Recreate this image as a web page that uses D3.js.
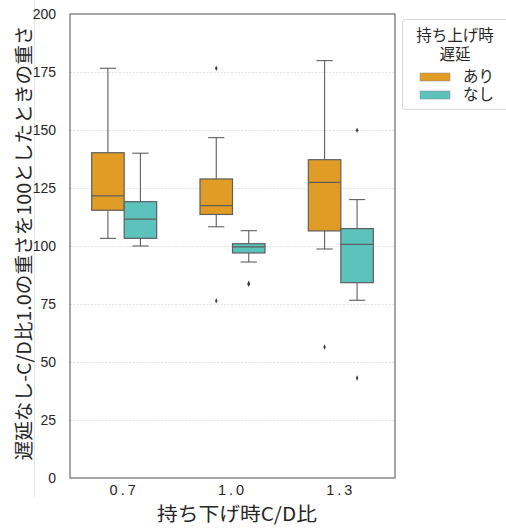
<!DOCTYPE html>
<html>
<head>
<meta charset="utf-8">
<script src="https://cdn.jsdelivr.net/npm/d3@7"></script>
<style>
  body { margin: 0; background: #fff; }
  svg text { font-family: "Noto Sans CJK JP", "Liberation Sans", sans-serif; fill: #262626; }
  .tick text { font-family: "Liberation Sans", sans-serif; }
</style>
</head>
<body>
<div id="chart"></div>
<script>
// categories on the x axis and hue groups
const categories = ['0.7', '1.0', '1.3'];
const hues = ['あり', 'なし'];
const hueColors = ['#e09c24', '#5bc2bc'];
const yTicks = [0, 25, 50, 75, 100, 125, 150, 175, 200];

// box stats per category, [あり, なし]
const whiskerLow  = [[103.3, 100.0], [108.3, 93.1], [98.7, 76.6]];
const q1          = [[115.4, 103.3], [113.6, 97.0], [106.5, 84.2]];
const median      = [[121.6, 111.6], [117.4, 99.6], [127.4, 100.7]];
const q3          = [[140.2, 119.1], [128.9, 101.0], [137.2, 107.5]];
const whiskerHigh = [[176.6, 140.0], [146.7, 106.6], [179.9, 120.0]];
const outliers    = [[[], []], [[176.6, 76.4], [83.5, 83.9]], [[56.5], [149.9, 43.1]]];

const width = 506;
const height = 528;
const margin = { left: 70, right: 111, top: 14, bottom: 50 };

const svg = d3.select('#chart')
              .append('svg')
              .attr('width', width)
              .attr('height', height);

// faint edge line on the left
svg.append('line')
   .attr('x1', 34.5).attr('x2', 34.5)
   .attr('y1', 0).attr('y2', 497)
   .attr('stroke', '#e4e4e4')
   .attr('stroke-width', 1);

const xScale = d3.scaleBand()
                 .domain(categories)
                 .range([margin.left, width - margin.right]);

const yScale = d3.scaleLinear()
                 .domain([0, 200])
                 .range([height - margin.bottom, margin.top]);

const hueScale = d3.scaleBand()
                   .domain(hues)
                   .range([xScale.bandwidth() * 0.2, xScale.bandwidth() * 0.8]);

// grid lines
svg.append('g')
   .attr('transform', 'translate(' + margin.left + ', 0)')
   .call(d3.axisLeft(yScale)
           .tickValues(yTicks.slice(1, -1))
           .tickSize(-(width - margin.right - margin.left))
           .tickFormat(''))
   .call(g => g.select('.domain').remove())
   .call(g => g.selectAll('line')
               .attr('stroke', '#dcdcdc')
               .attr('stroke-dasharray', '2,1.5')
               .attr('stroke-width', 0.8));

// y axis
svg.append('g')
   .attr('transform', 'translate(' + margin.left + ', 0)')
   .call(d3.axisLeft(yScale)
           .tickValues(yTicks)
           .tickSize(0)
           .tickPadding(14))
   .call(g => g.select('.domain').remove())
   .call(g => g.selectAll('text').attr('font-size', 14));

// x axis
svg.append('g')
   .attr('transform', 'translate(0, ' + (height - margin.bottom) + ')')
   .call(d3.axisBottom(xScale).tickSize(0).tickPadding(7))
   .call(g => g.select('.domain').remove())
   .call(g => g.selectAll('text')
               .attr('font-size', 14.5)
               .attr('letter-spacing', 3));

const gray = '#5e5e5e';

categories.forEach((cat, ci) => {
  hues.forEach((hue, hi) => {
    const x0 = xScale(cat) + hueScale(hue);
    const bw = hueScale.bandwidth();
    const cx = x0 + bw / 2;
    const g = svg.append('g');

    // whiskers
    g.append('line')
     .attr('x1', cx).attr('x2', cx)
     .attr('y1', yScale(q3[ci][hi])).attr('y2', yScale(whiskerHigh[ci][hi]))
     .attr('stroke', gray).attr('stroke-width', 1.1);
    g.append('line')
     .attr('x1', cx).attr('x2', cx)
     .attr('y1', yScale(q1[ci][hi])).attr('y2', yScale(whiskerLow[ci][hi]))
     .attr('stroke', gray).attr('stroke-width', 1.1);
    [whiskerHigh[ci][hi], whiskerLow[ci][hi]].forEach(v => {
      g.append('line')
       .attr('x1', cx - bw / 4).attr('x2', cx + bw / 4)
       .attr('y1', yScale(v)).attr('y2', yScale(v))
       .attr('stroke', gray).attr('stroke-width', 1.1);
    });

    // box
    g.append('rect')
     .attr('x', x0)
     .attr('y', yScale(q3[ci][hi]))
     .attr('width', bw)
     .attr('height', yScale(q1[ci][hi]) - yScale(q3[ci][hi]))
     .attr('fill', hueColors[hi])
     .attr('stroke', gray)
     .attr('stroke-width', 1.2);

    g.append('line')
     .attr('x1', x0).attr('x2', x0 + bw)
     .attr('y1', yScale(median[ci][hi])).attr('y2', yScale(median[ci][hi]))
     .attr('stroke', gray).attr('stroke-width', 1.2);

    // outliers
    g.selectAll('path.flier')
     .data(outliers[ci][hi])
     .join('path')
     .attr('class', 'flier')
     .attr('d', d3.symbol(d3.symbolDiamond, 9))
     .attr('transform', d => 'translate(' + cx + ',' + yScale(d) + ') scale(0.75,1)')
     .attr('fill', '#3a3a3a');
  });
});

// frame
svg.append('rect')
   .attr('x', margin.left)
   .attr('y', margin.top)
   .attr('width', width - margin.right - margin.left)
   .attr('height', height - margin.bottom - margin.top)
   .attr('fill', 'none')
   .attr('stroke', '#6a6a6a')
   .attr('stroke-width', 1.2);

// axis titles
svg.append('text')
   .attr('x', 237)
   .attr('y', 521)
   .attr('text-anchor', 'middle')
   .attr('font-size', 19)
   .attr('textLength', 160)
   .attr('lengthAdjust', 'spacingAndGlyphs')
   .text('持ち下げ時C/D比');

svg.append('text')
   .attr('transform', 'translate(31, 243) rotate(-90)')
   .attr('text-anchor', 'middle')
   .attr('font-size', 19)
   .attr('textLength', 435)
   .attr('lengthAdjust', 'spacingAndGlyphs')
   .text('遅延なし-C/D比1.0の重さを100としたときの重さ');

// legend
const legend = svg.append('g');
legend.append('rect')
      .attr('x', 402.5).attr('y', 19.5)
      .attr('width', 120).attr('height', 90)
      .attr('rx', 3)
      .attr('fill', '#fff')
      .attr('stroke', '#d8d8d8');
legend.append('text')
      .attr('x', 455).attr('y', 41)
      .attr('text-anchor', 'middle')
      .attr('font-size', 15.5)
      .text('持ち上げ時');
legend.append('text')
      .attr('x', 455).attr('y', 60)
      .attr('text-anchor', 'middle')
      .attr('font-size', 15.5)
      .text('遅延');
hues.forEach((hue, i) => {
  legend.append('rect')
        .attr('x', 420).attr('y', 73 + i * 18)
        .attr('width', 30).attr('height', 8)
        .attr('fill', hueColors[i])
        .attr('stroke', '#8a8a8a')
        .attr('stroke-width', 0.5);
  legend.append('text')
        .attr('x', 463).attr('y', 82 + i * 18)
        .attr('font-size', 15.5)
        .text(hue);
});
</script>
</body>
</html>
